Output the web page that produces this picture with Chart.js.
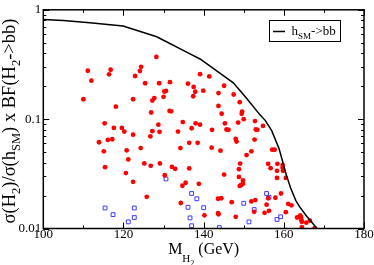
<!DOCTYPE html>
<html>
<head>
<meta charset="utf-8">
<script src="https://cdn.jsdelivr.net/npm/chart.js@4"></script>
<style>
  html, body { margin: 0; padding: 0; background: #fff; }
  canvas { display: block; }
</style>
</head>
<body>
<canvas id="chart" width="374" height="265"></canvas>
<script>
// Данные
const redX = [128.2, 111.1, 116.8, 116.4, 124.4, 124.1, 122.9, 112.0, 125.4, 128.9, 131.6, 139.1, 141.4, 136.1, 137.5, 137.9, 139.9, 130.2, 130.6, 137.4,
  130.0, 127.7, 127.2, 122.4, 110.0, 118.1, 143.7, 145.1, 147.5, 149.0, 143.7, 144.5, 149.6, 149.5, 150.0, 131.5, 131.9, 126.9, 115.3, 134.8,
  138.0, 139.1, 128.7, 145.3, 148.6, 152.8, 154.8, 117.6, 119.6, 127.2, 129.0, 120.2, 137.0, 133.6, 142.1, 145.7, 146.2, 153.0, 153.4, 113.9,
  117.2, 116.1, 122.4, 126.7, 136.4, 138.5, 148.0, 148.2, 152.7, 115.1, 120.8, 124.3, 134.2, 142.0, 144.2, 150.7, 151.9, 157.1, 157.7, 121.2,
  125.2, 126.8, 129.1, 115.4, 136.4, 149.1, 148.8, 148.8, 149.4, 149.8, 149.8, 149.0, 120.6, 130.3, 132.1, 132.9, 145.1, 122.4, 134.7, 135.5,
  138.8, 125.8, 158.4, 159.7, 159.7, 159.8, 158.3, 156.7, 156.1, 158.3, 160.5, 134.3, 143.6, 144.4, 147.0, 151.9, 152.9, 155.7, 156.3, 155.2,
  152.6, 156.1, 159.3, 157.9, 161.1, 161.9, 160.5, 140.2, 143.6, 143.7, 148.0, 163.3, 164.1, 164.3, 164.4, 164.5, 165.6, 166.5, 164.5, 167.7];
const redY = [0.371, 0.277, 0.283, 0.257, 0.301, 0.275, 0.248, 0.225, 0.213, 0.213, 0.218, 0.258, 0.246, 0.211, 0.197, 0.178, 0.182, 0.179, 0.181, 0.162,
  0.160, 0.156, 0.148, 0.152, 0.152, 0.130, 0.173, 0.202, 0.168, 0.143, 0.132, 0.112, 0.117, 0.112, 0.100, 0.119, 0.118, 0.115, 0.0915, 0.094,
  0.0915, 0.089, 0.089, 0.0915, 0.093, 0.096, 0.0867, 0.0832, 0.0832, 0.0777, 0.0766, 0.077, 0.0826, 0.077, 0.0798, 0.0804, 0.0798, 0.0804, 0.0798, 0.0615,
  0.0655, 0.0645, 0.0721, 0.0697, 0.0607, 0.0607, 0.0659, 0.0623, 0.065, 0.0508, 0.0519, 0.0544, 0.0544, 0.0548, 0.0515, 0.0469, 0.0508, 0.0526, 0.0526, 0.0428,
  0.0394, 0.0374, 0.0394, 0.0364, 0.0354, 0.0392, 0.0349, 0.0296, 0.025, 0.0256, 0.0275, 0.0245, 0.0321, 0.0307, 0.0366, 0.0351, 0.0311, 0.0267, 0.0246, 0.0262,
  0.0256, 0.0195, 0.039, 0.038, 0.036, 0.0337, 0.0337, 0.0356, 0.039, 0.029, 0.029, 0.0171, 0.0187, 0.0189, 0.0174, 0.0177, 0.0182, 0.0165, 0.0145, 0.0139,
  0.0142, 0.0189, 0.0209, 0.0191, 0.0168, 0.0163, 0.0141, 0.0132, 0.0138, 0.0135, 0.0128, 0.0126, 0.0132, 0.0126, 0.0119, 0.0115, 0.0113, 0.0118, 0.0103, 0.0101];

const blueX = [130.6, 115.4, 117.4, 122.7, 122.7, 121.2, 137.0, 138.3, 136.1, 140.0, 136.6, 137.0, 143.9, 150.0, 152.6, 151.3, 155.7, 156.3, 158.3, 159.2];
const blueY = [0.0284, 0.0154, 0.0134, 0.0154, 0.0126, 0.0115, 0.0209, 0.0187, 0.0156, 0.0155, 0.0125, 0.0106, 0.0102, 0.017, 0.0149, 0.0115, 0.0209, 0.0193, 0.0121, 0.0128];

const curveX = [100, 105, 111.6, 119.9, 128.3, 136.6, 139.1, 144.9, 147.4, 150.7, 154.0, 155.4, 157.0, 158.8, 159.7, 160.6, 161.7, 163.0, 164.0, 165.8, 168.3];
const curveY = [0.815, 0.80, 0.762, 0.71, 0.567, 0.395, 0.355, 0.25, 0.215, 0.155, 0.11, 0.097, 0.078, 0.054, 0.041, 0.031, 0.0235, 0.018, 0.0157, 0.0128, 0.01];

const xMajor = [100, 120, 140, 160, 180];
const xMinor = [110, 130, 150, 170];
const yMajor = [0.01, 0.1, 1];

const serif = "'Liberation Serif', 'Times New Roman', serif";

function pts(xs, ys) {
  return xs.map((x, i) => ({ x: x, y: ys[i] }));
}

// текст с индексами: части [текст, размер, сдвиг вниз]
function richWidth(ctx, parts) {
  let w = 0;
  parts.forEach(p => { ctx.font = p[1] + 'px ' + serif; w += ctx.measureText(p[0]).width; });
  return w;
}
function drawRich(ctx, parts, x, y) {
  parts.forEach(p => {
    ctx.font = p[1] + 'px ' + serif;
    ctx.fillText(p[0], x, y + p[2]);
    x += ctx.measureText(p[0]).width;
  });
}

const decorPlugin = {
  id: 'decor',
  afterDraw(chart) {
    const ctx = chart.ctx;
    const a = chart.chartArea;
    const xs = chart.scales.x, ys = chart.scales.y;
    ctx.save();
    ctx.strokeStyle = '#000';
    ctx.fillStyle = '#000';

    // засечки внутрь на всех четырёх сторонах
    ctx.lineWidth = 1;
    ctx.beginPath();
    const xt = xMajor.map(v => [v, 6]).concat(xMinor.map(v => [v, 3]));
    xt.forEach(t => {
      const px = Math.round(xs.getPixelForValue(t[0])) + 0.5;
      ctx.moveTo(px, a.bottom); ctx.lineTo(px, a.bottom - t[1]);
      ctx.moveTo(px, a.top); ctx.lineTo(px, a.top + t[1]);
    });
    const yt = yMajor.map(v => [v, 6]);
    [0.01, 0.1].forEach(d => { for (let k = 2; k <= 9; k++) yt.push([d * k, 3]); });
    yt.forEach(t => {
      const py = Math.round(ys.getPixelForValue(t[0])) + 0.5;
      ctx.moveTo(a.left, py); ctx.lineTo(a.left + t[1], py);
      ctx.moveTo(a.right, py); ctx.lineTo(a.right - t[1], py);
    });
    ctx.stroke();

    // рамка
    ctx.lineWidth = 1.5;
    ctx.strokeRect(a.left, a.top, a.right - a.left, a.bottom - a.top);

    // подпись оси X
    ctx.textBaseline = 'alphabetic';
    ctx.textAlign = 'left';
    const xTitle = [['M', 16, 0], ['H', 11, 8], ['2', 8, 12], [' (GeV)', 16, 0]];
    const xw = richWidth(ctx, xTitle);
    drawRich(ctx, xTitle, (a.left + a.right) / 2 - xw / 2, 254);

    // подпись оси Y
    const yTitle = [['σ(H', 18.5, 0], ['2', 12.5, 4.5], [')/σ(h', 18.5, 0], ['SM', 12.5, 4.5], [') x BF(H', 18.5, 0], ['2', 12.5, 4.5], ['->bb)', 18.5, 0]];
    const yw = richWidth(ctx, yTitle);
    ctx.translate(15, 121);
    ctx.rotate(-Math.PI / 2);
    drawRich(ctx, yTitle, -yw / 2, 0);
    ctx.setTransform(1, 0, 0, 1, 0, 0);

    // легенда
    ctx.lineWidth = 1;
    ctx.strokeRect(269.5, 20.5, 71, 21);
    ctx.lineWidth = 1.5;
    ctx.beginPath();
    ctx.moveTo(273, 31.5); ctx.lineTo(285, 31.5);
    ctx.stroke();
    drawRich(ctx, [['h', 13, 0], ['SM', 9, 4], ['->bb', 13, 0]], 291.5, 35);
    ctx.restore();
  }
};

new Chart(document.getElementById('chart').getContext('2d'), {
  type: 'scatter',
  data: {
    datasets: [
      {
        label: 'h_SM->bb',
        data: pts(curveX, curveY),
        showLine: true,
        borderColor: '#000',
        borderWidth: 1.5,
        pointRadius: 0,
        tension: 0,
        fill: false
      },
      {
        data: pts(redX, redY),
        pointRadius: 2.4,
        borderWidth: 0,
        backgroundColor: '#ff0000'
      },
      {
        data: pts(blueX, blueY),
        pointStyle: 'rect',
        pointRadius: 2.7,
        borderWidth: 1,
        borderColor: '#3c3cff',
        backgroundColor: 'rgba(255,255,255,0)'
      }
    ]
  },
  options: {
    responsive: false,
    animation: false,
    events: [],
    layout: { padding: { top: 4, right: 10, left: 0, bottom: 0 } },
    plugins: { legend: { display: false }, tooltip: { enabled: false } },
    scales: {
      x: {
        type: 'linear',
        min: 100,
        max: 180,
        afterFit: s => { s.height = 36.5; },
        grid: { display: false, drawTicks: false },
        border: { display: false },
        ticks: {
          stepSize: 10,
          autoSkip: false,
          maxRotation: 0,
          padding: -2,
          color: '#000',
          font: { family: serif, size: 13 },
          callback: v => (xMajor.includes(v) ? String(v) : '')
        }
      },
      y: {
        type: 'logarithmic',
        min: 0.01,
        max: 1,
        afterFit: s => { s.width = 43.3; },
        afterBuildTicks: s => { s.ticks = yMajor.map(v => ({ value: v })); },
        grid: { display: false, drawTicks: false },
        border: { display: false },
        ticks: {
          padding: 2,
          color: '#000',
          font: { family: serif, size: 13 },
          callback: v => String(v)
        }
      }
    }
  },
  plugins: [decorPlugin]
});
</script>
</body>
</html>
